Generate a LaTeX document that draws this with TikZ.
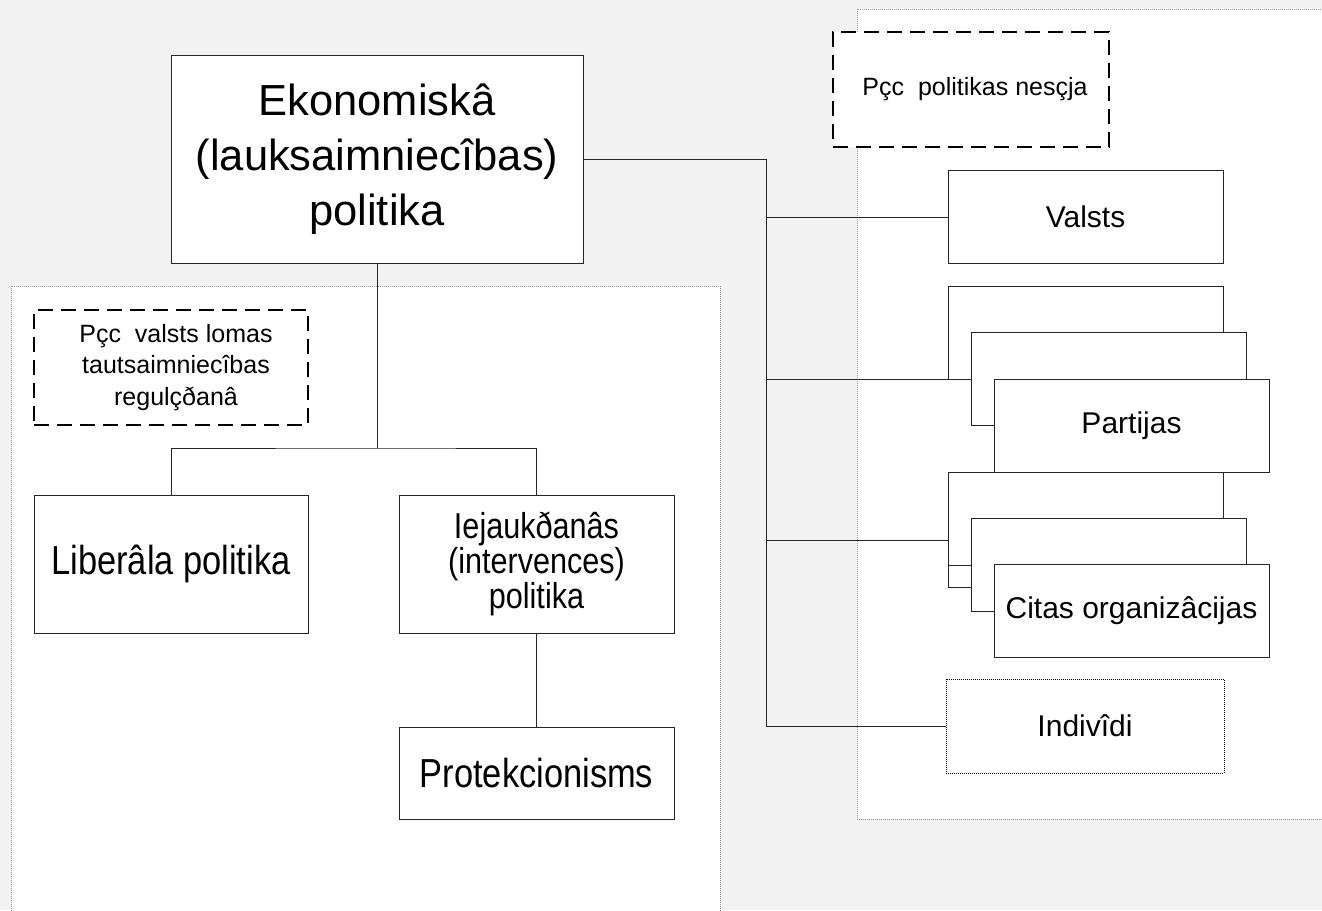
\documentclass[tikz,border=0pt]{standalone}
\usepackage{fontspec}
\setmainfont{Liberation Sans}
\newfontfamily\narrowsans[FakeStretch=0.85]{Liberation Sans}
\definecolor{bggray}{RGB}{242,242,242}
\definecolor{edgegray}{RGB}{150,150,150}

\begin{document}
\begin{tikzpicture}[x=1pt, y=-1pt]
    % --- Styles ---
    \tikzstyle{region}=[draw=edgegray, fill=white, line width=0.8pt, dash pattern=on 1pt off 1pt]
    \tikzstyle{plain_box}=[draw=black!85, fill=white, line width=1pt, inner sep=0pt, align=center, minimum width=275pt, minimum height=93pt]
    \tikzstyle{stack_box}=[plain_box, font=\fontsize{30}{34}\selectfont]
    \tikzstyle{dot_box}=[plain_box, draw=black, dash pattern=on 1pt off 1pt, font=\fontsize{30}{34}\selectfont]
    \tikzstyle{note_box}=[draw=black, fill=white, line width=2pt, dash pattern=on 15pt off 8pt, inner sep=0pt, align=center, font=\fontsize{25}{31.5}\selectfont]
    \tikzstyle{wire}=[draw=black!85, line width=1pt]

    % --- 1. Background and the two areas ---
    \fill[bggray] (0,0) rectangle (1322,910);
    \useasboundingbox (0,0) rectangle (1322,910);
    \path[region] (11,286) rectangle (720,916);
    \path[region] (857,9) rectangle (1330,819);

    % --- 2. Left tree ---
    \node[plain_box, minimum width=412pt, minimum height=208pt, font=\fontsize{43.5}{55}\selectfont] (eko) at (377,159)
        {Ekonomiskâ\\(lauksaimniecîbas)\\politika};
    \node[note_box, minimum width=274pt, minimum height=115pt] (lnote) at (171,367.5)
        {\hspace*{10pt}Pçc\ \ valsts lomas\\\hspace*{10pt}tautsaimniecîbas\\\hspace*{10pt}regulçðanâ};
    \node[plain_box, minimum width=274pt, minimum height=138pt, font=\narrowsans\fontsize{40.5}{45}\selectfont] (lib) at (171,564)
        {Liberâla politika};
    \node[plain_box, minimum height=138pt, font=\narrowsans\fontsize{36}{35}\selectfont] (iej) at (536.5,564)
        {Iejaukðanâs\\(intervences)\\politika};
    \node[plain_box, minimum height=92pt, font=\narrowsans\fontsize{40.5}{45}\selectfont] (prot) at (536.5,773)
        {Protekcionisms};

    \coordinate (ljoin) at (377,448);
    \draw[wire] (eko.south) -- (ljoin);
    \draw[wire] (lib.north) |- (ljoin) -| (iej.north);
    \draw[wire] (iej.south) -- (prot.north);

    % --- 3. Right tree ---
    \node[note_box, minimum width=276pt, minimum height=115pt] (rnote) at (971,89.5)
        {\hspace*{8pt}Pçc\ \ politikas nesçja};
    \node[stack_box] (valsts) at (1085.5,217) {Valsts};

    % Partijas (stack of three)
    \node[stack_box] (part1) at (1085.5,332.5) {};
    \node[stack_box] (part2) at (1108.5,379) {};
    \node[stack_box] (part3) at (1131.5,425.5) {Partijas};

    % Citas organizâcijas (stack, one box hidden behind)
    \node[stack_box] (citas0) at (1085.5,540.5) {};
    \node[stack_box] (citas1) at (1085.5,518.5) {};
    \node[stack_box] (citas2) at (1108.5,564.5) {};
    \node[stack_box] (citas3) at (1131.5,610.5) {Citas organizâcijas};

    \node[dot_box, minimum width=278pt, minimum height=94pt] (indiv) at (1085,726) {Indivîdi};

    \coordinate (rbus) at (766,159);
    \draw[wire] (eko.east) -- (rbus) |- (indiv.west);
    \draw[wire] (rbus |- valsts.west) -- (valsts.west);
    \draw[wire] (rbus |- part2.west) -- (part2.west);
    \draw[wire] (rbus |- citas0.west) -- (citas0.west);

\end{tikzpicture}
\end{document}
